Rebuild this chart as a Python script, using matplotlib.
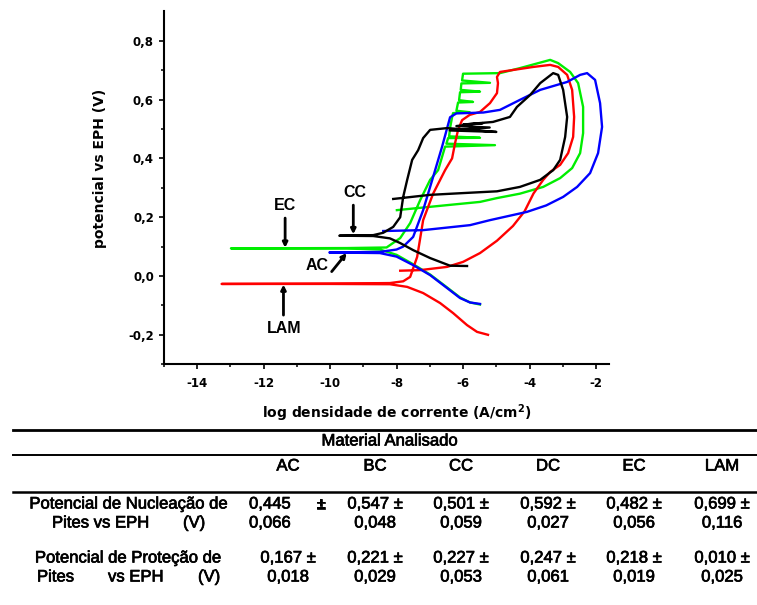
import matplotlib
matplotlib.use("Agg")
import matplotlib.pyplot as plt
import matplotlib.patheffects as pe
from matplotlib.lines import Line2D

# ---------------- data ----------------
# EC (green)
ec_x = [-5.49, -5.79, -6.09, -6.48, -6.99, -7.5, -8.0, -8.5, -9.5, -12.98, -9.5, -8.3,
        -7.89, -7.59, -7.29, -6.99, -6.75, -6.54, -5.04, -6.5, -6.45, -5.49, -6.42, -6.38,
        -6.33, -6.3, -5.8, -6.2, -6.15, -5.7, -6.12, -6.09, -5.49, -6.07, -6.05, -5.19,
        -6.03, -6.0, -4.89, -4.29, -3.38, -3.14, -2.78, -2.54, -2.39, -2.39, -2.48, -2.72,
        -3.08, -3.59, -4.29, -4.98, -5.49, -6.48, -7.99]
ec_y = [-0.097, -0.09, -0.073, -0.039, 0.005, 0.04, 0.072, 0.09, 0.094, 0.094, 0.095, 0.097,
        0.129, 0.18, 0.258, 0.327, 0.36, 0.44, 0.445, 0.45, 0.469, 0.47, 0.475, 0.51,
        0.54, 0.554, 0.557, 0.562, 0.59, 0.592, 0.598, 0.625, 0.627, 0.633, 0.655, 0.657,
        0.665, 0.688, 0.69, 0.707, 0.735, 0.724, 0.694, 0.656, 0.575, 0.486, 0.418, 0.367,
        0.333, 0.303, 0.28, 0.265, 0.252, 0.241, 0.224]

# AC (blue)
ac_x = [-5.49, -5.79, -6.09, -6.48, -6.99, -7.5, -8.0, -8.5, -10.02, -8.5, -8.0, -7.8,
        -7.5, -7.2, -6.9, -6.63, -6.39, -6.2, -5.39, -4.89, -4.29, -3.68, -2.87, -2.48,
        -2.27, -2.03, -1.88, -1.82, -1.94, -2.18, -2.57, -2.99, -3.5, -4.08, -5.19, -5.79,
        -7.2, -8.4]
ac_y = [-0.095, -0.09, -0.075, -0.041, 0.003, 0.037, 0.066, 0.078, 0.08, 0.082, 0.09, 0.1,
        0.133, 0.224, 0.337, 0.44, 0.54, 0.553, 0.556, 0.565, 0.599, 0.633, 0.66, 0.684,
        0.69, 0.667, 0.588, 0.507, 0.418, 0.35, 0.303, 0.269, 0.24, 0.218, 0.19, 0.173,
        0.156, 0.153]

# CC (black)
cc_x = [-5.88, -6.39, -6.99, -7.5, -7.89, -8.2, -8.7, -9.72, -8.7, -8.4, -8.1, -7.89,
        -7.8, -7.68, -7.53, -7.35, -7.2, -6.99, -6.48, -5.0, -6.4, -5.2, -6.2, -5.4,
        -6.0, -5.1, -4.59, -4.38, -3.98, -3.68, -3.29, -3.14, -2.99, -2.87, -2.93, -3.08,
        -3.29, -3.68, -4.29, -4.98, -6.0, -6.99, -8.1]
cc_y = [0.034, 0.035, 0.061, 0.088, 0.112, 0.128, 0.136, 0.137, 0.139, 0.147, 0.167, 0.2,
        0.269, 0.327, 0.395, 0.428, 0.469, 0.497, 0.503, 0.49, 0.495, 0.505, 0.51, 0.52,
        0.515, 0.524, 0.541, 0.575, 0.616, 0.656, 0.69, 0.684, 0.633, 0.541, 0.473, 0.395,
        0.36, 0.327, 0.303, 0.288, 0.282, 0.276, 0.262]

# LAM (red)
lam_x = [-5.25, -5.58, -5.88, -6.3, -6.69, -7.2, -7.68, -8.2, -10.0, -13.26, -10.0, -8.2,
         -7.8, -7.59, -7.38, -7.2, -6.9, -6.54, -6.33, -6.24, -6.15, -6.03, -5.8, -5.49,
         -5.19, -4.98, -4.95, -4.98, -4.89, -3.89, -3.38, -3.14, -2.87, -2.72, -2.66, -2.69,
         -2.84, -3.08, -3.38, -3.59, -3.88, -4.15, -4.5, -4.98, -5.49, -6.0, -6.48, -7.29,
         -7.89]
lam_y = [-0.2, -0.19, -0.167, -0.126, -0.092, -0.058, -0.037, -0.028, -0.027, -0.027, -0.026, -0.024,
         -0.018, -0.003, 0.065, 0.19, 0.28, 0.36, 0.40, 0.452, 0.497, 0.53, 0.548, 0.558,
         0.588, 0.622, 0.656, 0.677, 0.694, 0.711, 0.718, 0.711, 0.684, 0.633, 0.541, 0.473,
         0.418, 0.378, 0.354, 0.327, 0.281, 0.22, 0.17, 0.12, 0.078, 0.048, 0.031, 0.02,
         0.018]

xticks = [-14, -12, -10, -8, -6, -4, -2]
xtick_labels = ["-14", "-12", "-10", "-8", "-6", "-4", "-2"]
yticks = [-0.2, 0.0, 0.2, 0.4, 0.6, 0.8]
ytick_labels = ["-0,2", "0,0", "0,2", "0,4", "0,6", "0,8"]

materials = ["AC", "BC", "CC", "DC", "EC", "LAM"]
nucl_mean = ["0,445", "0,547", "0,501", "0,592", "0,482", "0,699"]
nucl_sd = ["0,066", "0,048", "0,059", "0,027", "0,056", "0,116"]
prot_mean = ["0,167", "0,221", "0,227", "0,247", "0,218", "0,010"]
prot_sd = ["0,018", "0,029", "0,053", "0,061", "0,019", "0,025"]

# ---------------- figure ----------------
W, H = 757, 605
fig = plt.figure(figsize=(W / 100, H / 100), dpi=100)
ax = fig.add_axes([0.2163, 0.398, 0.805 - 0.2163, 0.9812 - 0.398])

lw = 1.7
ax.plot(ec_x, ec_y, color="#00ee00", lw=lw, solid_joinstyle="round")
ax.plot(lam_x, lam_y, color="#ff0000", lw=lw, solid_joinstyle="round")
ax.plot(ac_x, ac_y, color="#0000ff", lw=lw, solid_joinstyle="round")
ax.plot(cc_x, cc_y, color="#000000", lw=lw, solid_joinstyle="round")

ax.set_xlim(-15, -1.6)
ax.set_ylim(-0.3, 0.9)
for s in ("top", "right"):
    ax.spines[s].set_visible(False)
for s in ("left", "bottom"):
    ax.spines[s].set_linewidth(1.5)

ax.set_xticks(xticks, labels=xtick_labels)
ax.set_yticks(yticks, labels=ytick_labels)
ax.set_xticks([-15, -13, -11, -9, -7, -5, -3], minor=True)
ax.set_yticks([-0.3, -0.1, 0.1, 0.3, 0.5, 0.7], minor=True)
ax.tick_params(which="major", direction="out", length=3.6, width=1.2, pad=3.5)
ax.tick_params(axis="x", which="major", pad=5.5)
ax.tick_params(which="minor", direction="out", length=2.2, width=1.1)
for lab in ax.get_xticklabels() + ax.get_yticklabels():
    lab.set_fontfamily("DejaVu Sans")
    lab.set_fontweight("bold")
    lab.set_fontsize(8.5)

ax.set_xlabel("log densidade de corrente (A/cm$^\\mathbf{2}$)", fontsize=10,
              fontweight="bold", family="DejaVu Sans")
ax.xaxis.set_label_coords(0.523, -0.108)
ax.set_ylabel("potencial vs EPH (V)", fontsize=10, fontweight="bold", family="DejaVu Sans")
ax.yaxis.set_label_coords(-0.128, 0.555)

# annotations
ann_font = dict(fontsize=11.5, fontweight="bold", family="Liberation Sans",
                ha="center", va="center")
arrow = dict(arrowstyle="-|>", lw=2.0, color="black", mutation_scale=7,
             shrinkA=0, shrinkB=0)
ax.text(-11.35, 0.241, "EC", **ann_font)
ax.annotate("", xy=(-11.35, 0.096), xytext=(-11.35, 0.197), arrowprops=arrow)
ax.text(-9.25, 0.283, "CC", **ann_font)
ax.annotate("", xy=(-9.30, 0.142), xytext=(-9.30, 0.241), arrowprops=arrow)
ax.text(-10.40, 0.037, "AC", **ann_font)
ax.annotate("", xy=(-9.5, 0.078), xytext=(-9.95, 0.015), arrowprops=arrow)
ax.text(-11.37, -0.178, "LAM", **ann_font)
ax.annotate("", xy=(-11.40, -0.029), xytext=(-11.40, -0.133), arrowprops=arrow)

# ---------------- table ----------------
def fx(px):
    return px / W

def fy(py):
    return 1 - py / H

def hline(py, lw):
    fig.add_artist(Line2D([fx(13), fx(757)], [fy(py), fy(py)], color="black",
                          lw=lw, transform=fig.transFigure))

hline(429.5, 2.0)
hline(455, 1.4)
hline(492, 1.8)

tf = dict(fontsize=12, family="Liberation Sans", va="center",
          path_effects=[pe.withStroke(linewidth=0.5, foreground="black")])
fig.text(fx(390), fy(441), "Material Analisado", ha="center", **tf)

col_centers = [288, 375, 461, 548, 634, 722]
for c, m in zip(col_centers, materials):
    fig.text(fx(c), fy(466), m, ha="center", **tf)

fig.text(fx(129), fy(504), "Potencial de Nucleação de", ha="center", **tf)
fig.text(fx(52), fy(523), "Pites vs EPH", ha="left", **tf)
fig.text(fx(183), fy(523), "(V)", ha="left", **tf)
fig.text(fx(128.5), fy(558), "Potencial de Proteção de", ha="center", **tf)
fig.text(fx(37), fy(577), "Pites", ha="left", **tf)
fig.text(fx(108), fy(577), "vs EPH", ha="left", **tf)
fig.text(fx(198), fy(577), "(V)", ha="left", **tf)

for i, c in enumerate(col_centers):
    if i == 0:
        fig.text(fx(249), fy(504), nucl_mean[i], ha="left", **tf)
        fig.text(fx(321), fy(504), "±", ha="center", **tf)
        fig.text(fx(249), fy(523), nucl_sd[i], ha="left", **tf)
    else:
        fig.text(fx(c), fy(504), nucl_mean[i] + " ±", ha="center", **tf)
        fig.text(fx(c), fy(523), nucl_sd[i], ha="center", **tf)
    fig.text(fx(c), fy(558), prot_mean[i] + " ±", ha="center", **tf)
    fig.text(fx(c), fy(577), prot_sd[i], ha="center", **tf)

fig.savefig("out.png", dpi=100)
